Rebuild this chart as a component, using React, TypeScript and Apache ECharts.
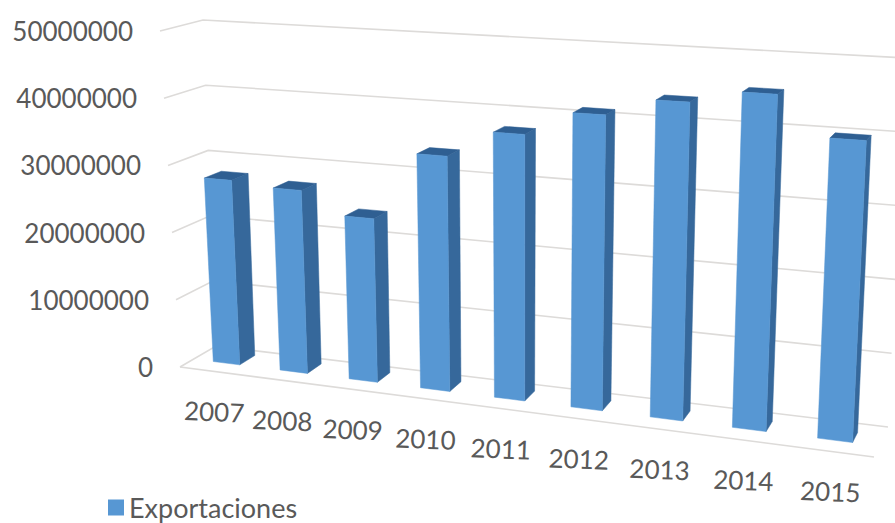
import React, { useEffect, useRef } from "react";
import * as echarts from "echarts";

const years = ["2007", "2008", "2009", "2010", "2011", "2012", "2013", "2014", "2015"];
const exportaciones = [27500000, 26900000, 23700000, 33600000, 37500000, 41000000, 43500000, 45300000, 39900000];
const valueTicks = [0, 10000000, 20000000, 30000000, 40000000, 50000000];

const W = 895;
const H = 523;
type Pt = [number, number];
const BACK = { bl: [216, 346] as Pt, br: [888, 427] as Pt, tl: [203, 20] as Pt, tr: [906, 58] as Pt };
const FRONT = { bl: [180, 367] as Pt, br: [874, 457] as Pt, tl: [160, 31] as Pt, tr: [893, 70] as Pt };
const K = 1.17;
const lerp = (a: number, b: number, t: number) => a + (b - a) * t;
const mix = (a: Pt, b: Pt, t: number): Pt => [lerp(a[0], b[0], t), lerp(a[1], b[1], t)];
const warp = (s: number) => s / (s + K * (1 - s));
const plane = (q: typeof BACK, t: number, v: number) => mix(mix(q.bl, q.br, t), mix(q.tl, q.tr, t), v);
// s: position along the categories, v: position along the values, w: depth (0 front, 1 back)
const project = (s: number, v: number, w: number): Pt => {
  const t = warp(s);
  return mix(plane(FRONT, t, v), plane(BACK, t, v), w);
};
const poly = (points: Pt[], fill: string) => ({
  type: "polygon",
  shape: { points },
  style: { fill, stroke: fill, lineWidth: 0.5 },
});

const renderBar = (_p: any, api: any) => {
  const c = api.coord([api.value(0), api.value(1)]);
  const half = (api.size([1, 0])[0] * 0.2) / W;
  const s0 = c[0] / W - half;
  const s1 = c[0] / W + half;
  const v = 1 - c[1] / H;
  const t = warp(c[0] / W);
  const wf = lerp(0.38, 0.37, t);
  const wb = lerp(0.82, 0.7, t);
  return {
    type: "group",
    children: [
      poly([project(s1, 0, wf), project(s1, 0, wb), project(s1, v, wb), project(s1, v, wf)], "#36689B"),
      poly([project(s0, v, wf), project(s1, v, wf), project(s1, v, wb), project(s0, v, wb)], "#2F5F92"),
      poly([project(s0, 0, wf), project(s1, 0, wf), project(s1, v, wf), project(s0, v, wf)], "#5797D3"),
    ],
  };
};

const gridStyle = { stroke: "#DDDBD9", lineWidth: 1.6, fill: "none" };
const renderGrid = (_p: any, api: any) => {
  const c = api.coord([0, api.value(1)]);
  const v = 1 - c[1] / H;
  const children: any[] = [
    { type: "polyline", shape: { points: [project(0, v, 0), project(0, v, 1), project(1, v, 1)] }, style: gridStyle },
  ];
  if (v === 0) {
    children.push({ type: "line", shape: { x1: project(0, 0, 0)[0], y1: project(0, 0, 0)[1], x2: project(1, 0, 0)[0], y2: project(1, 0, 0)[1] }, style: gridStyle });
  }
  return { type: "group", children };
};

const font = { fontFamily: "Lato", fontSize: 26, fill: "#595959" };
const renderValueLabel = (_p: any, api: any) => {
  const c = api.coord([0, api.value(1)]);
  const p = project(0, 1 - c[1] / H, 0);
  return {
    type: "text",
    x: p[0] - 27,
    y: p[1],
    style: { ...font, text: String(api.value(1)), align: "right", verticalAlign: "middle" },
  };
};
const renderYearLabel = (_p: any, api: any) => {
  const idx = api.value(0);
  const c = api.coord([idx, 0]);
  const p = project(c[0] / W, 0, 0);
  return {
    type: "text",
    x: p[0] + 1,
    y: p[1] + 40,
    rotation: -0.04,
    style: { ...font, text: years[idx], align: "center", verticalAlign: "middle" },
  };
};

export default function App() {
  const ref = useRef<HTMLDivElement>(null);
  useEffect(() => {
    const chart = echarts.init(ref.current!, undefined, { renderer: "svg" });
    chart.setOption({
      animation: false,
      backgroundColor: "#fff",
      grid: { left: 0, right: 0, top: 0, bottom: 0 },
      xAxis: { type: "category", data: years, show: false },
      yAxis: { type: "value", min: 0, max: 50000000, interval: 10000000, show: false },
      legend: {
        left: 103,
        top: 489,
        icon: "rect",
        itemWidth: 16,
        itemHeight: 16,
        itemGap: 10,
        data: ["Exportaciones"],
        textStyle: { fontFamily: "Lato", fontSize: 27, color: "#595959", padding: [0, 0, 0, 0] },
      },
      series: [
        { type: "custom", name: "grid", silent: true, renderItem: renderGrid, data: valueTicks.map((t) => [0, t]), encode: { x: 0, y: 1 }, clip: false, z: 1 },
        { type: "custom", name: "Exportaciones", renderItem: renderBar, itemStyle: { color: "#5797D3" }, data: exportaciones.map((v, i) => [i, v]), encode: { x: 0, y: 1 }, z: 2 },
        { type: "custom", name: "valueLabels", silent: true, renderItem: renderValueLabel, data: valueTicks.map((t) => [0, t]), encode: { x: 0, y: 1 }, z: 3 },
        { type: "custom", name: "yearLabels", silent: true, renderItem: renderYearLabel, data: years.map((_, i) => [i, 0]), encode: { x: 0, y: 1 }, z: 3 },
      ],
    });
    return () => chart.dispose();
  }, []);
  return <div ref={ref} style={{ position: "absolute", left: 0, top: 0, width: W, height: H }} />;
}
